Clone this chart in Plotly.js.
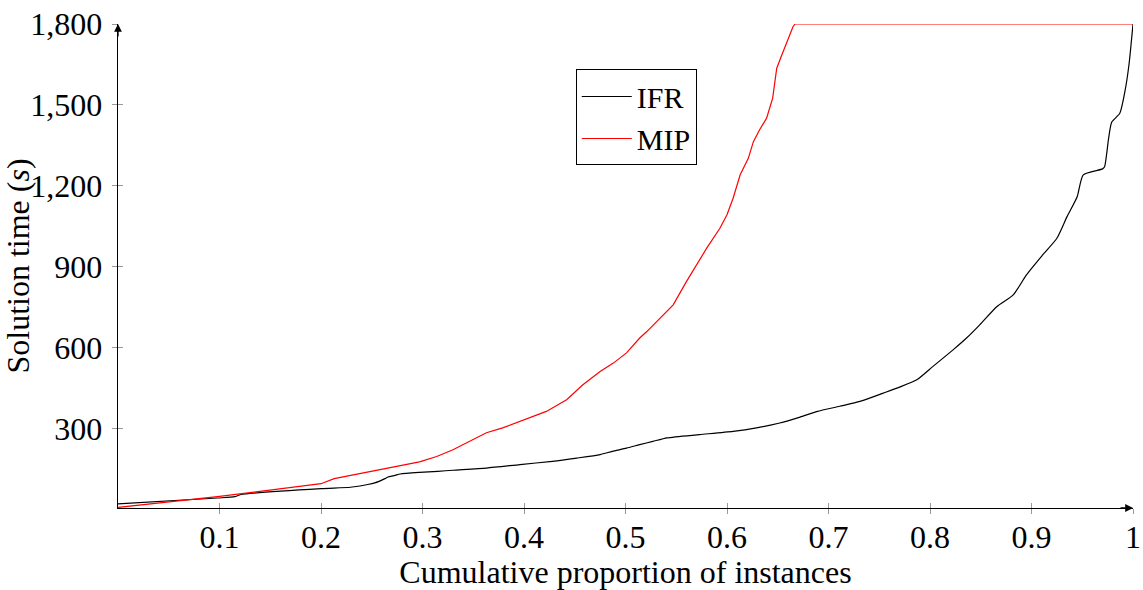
<!DOCTYPE html>
<html>
<head>
<meta charset="utf-8">
<script src="https://cdn.plot.ly/plotly-3.0.1.min.js"></script>
<style>html,body{margin:0;padding:0;background:#fff}</style>
</head>
<body>
<div id="chart" style="width:1143px;height:590px"></div>
<script>
// Cumulative solution-time profiles of the two approaches
const ifrX = [0, 0.098, 0.115, 0.121, 0.200, 0.229, 0.246, 0.253, 0.263, 0.266, 0.273, 0.278, 0.297, 0.315, 0.330, 0.363, 0.396, 0.428, 0.452, 0.475, 0.487, 0.501, 0.514, 0.527, 0.541, 0.573, 0.606, 0.629, 0.652, 0.672, 0.689, 0.711, 0.731, 0.754, 0.770, 0.787, 0.803, 0.823, 0.836, 0.849, 0.866, 0.882, 0.895, 0.911, 0.925, 0.935, 0.945, 0.951, 0.970, 0.972, 0.976, 0.979, 0.987, 0.992, 0.996, 1.0];
const ifrY = [21, 43, 48, 56, 78, 83, 93, 99, 115, 121, 127, 132, 138, 142, 146, 154, 167, 179, 191, 204, 216, 228, 241, 253, 266, 278, 290, 303, 321, 343, 364, 383, 401, 432, 454, 481, 531, 593, 636, 685, 753, 796, 870, 944, 1006, 1086, 1160, 1241, 1263, 1271, 1377, 1436, 1469, 1549, 1648, 1800];

const mipX = [0, 0.098, 0.200, 0.213, 0.297, 0.314, 0.330, 0.346, 0.363, 0.379, 0.396, 0.422, 0.442, 0.458, 0.475, 0.488, 0.501, 0.514, 0.521, 0.534, 0.547, 0.560, 0.570, 0.580, 0.593, 0.600, 0.606, 0.609, 0.613, 0.621, 0.626, 0.632, 0.639, 0.645, 0.647, 0.649, 0.654, 0.659, 0.665, 0.667, 1.0];
const mipY = [8, 48, 96, 115, 177, 197, 222, 253, 285, 303, 327, 364, 407, 463, 512, 543, 581, 636, 660, 710, 759, 845, 907, 969, 1043, 1093, 1154, 1191, 1241, 1302, 1364, 1407, 1451, 1525, 1586, 1636, 1685, 1734, 1790, 1800, 1800];

const xTickVals = [0.1, 0.2, 0.3, 0.4, 0.5, 0.6, 0.7, 0.8, 0.9, 1];
const xTickText = ['0.1', '0.2', '0.3', '0.4', '0.5', '0.6', '0.7', '0.8', '0.9', '1'];
const yTickVals = [300, 600, 900, 1200, 1500, 1800];
const yTickText = ['300', '600', '900', '1,200', '1,500', '1,800'];

const serif = 'Liberation Serif, Times New Roman, serif';
const xRange = [0, 1];
const yRange = [6, 1800];

const traces = [
  {x: ifrX, y: ifrY, name: 'IFR', mode: 'lines', type: 'scatter',
   line: {color: '#000000', width: 1.2, shape: 'spline', smoothing: 0.6}},
  {x: mipX, y: mipY, name: 'MIP', mode: 'lines', type: 'scatter',
   line: {color: '#ff0000', width: 1.2}},
  // empty trace that registers the companion tick axes
  {x: [], y: [], xaxis: 'x2', yaxis: 'y2', type: 'scatter', mode: 'lines',
   showlegend: false, hoverinfo: 'skip'}
];

const tickStyle = {ticklen: 5, tickwidth: 1, tickcolor: '#999999'};

const layout = {
  width: 1143, height: 590,
  margin: {l: 118, r: 10, t: 24, b: 82},
  paper_bgcolor: '#ffffff', plot_bgcolor: '#ffffff',
  font: {family: serif, size: 32, color: '#000000'},
  showlegend: true,
  legend: {x: 0.451, y: 0.906, xanchor: 'left', yanchor: 'top',
           bordercolor: '#000000', borderwidth: 1, bgcolor: '#ffffff',
           font: {family: serif, size: 30}, tracegroupgap: 0, itemwidth: 50},
  xaxis: Object.assign({range: xRange, tickmode: 'array', tickvals: xTickVals, ticktext: xTickText,
          ticks: 'inside', showline: true, linecolor: '#000000', linewidth: 1.3,
          showgrid: false, zeroline: false, fixedrange: true,
          title: {text: 'Cumulative proportion of instances', font: {family: serif, size: 32}, standoff: 6}}, tickStyle),
  yaxis: Object.assign({range: yRange, tickmode: 'array', tickvals: yTickVals, ticktext: yTickText,
          ticks: 'outside', ticklabelstandoff: 3, showline: true, linecolor: '#000000', linewidth: 1.3,
          showgrid: false, zeroline: false, fixedrange: true,
          title: {text: 'Solution time (<i>s</i>)', font: {family: serif, size: 32}, standoff: 0}}, tickStyle),
  // companion axes give the ticks their other half, so each tick crosses the axis line
  xaxis2: Object.assign({range: xRange, overlaying: 'x', anchor: 'y2', side: 'bottom', tickmode: 'array',
          tickvals: xTickVals, ticks: 'outside', showticklabels: false, showline: false,
          showgrid: false, zeroline: false, fixedrange: true}, tickStyle),
  yaxis2: Object.assign({range: yRange, overlaying: 'y', anchor: 'x2', side: 'left', tickmode: 'array',
          tickvals: yTickVals, ticks: 'inside', showticklabels: false, showline: false,
          showgrid: false, zeroline: false, fixedrange: true}, tickStyle),
  annotations: [
    // arrow tips at the far ends of both axes
    {x: 0, y: 1800, xref: 'x', yref: 'y', ax: 0, ay: 14, axref: 'pixel', ayref: 'pixel',
     text: '', showarrow: true, arrowhead: 2, arrowsize: 1.2, arrowwidth: 1.3, arrowcolor: '#000000'},
    {x: 1, y: 6, xref: 'x', yref: 'y', ax: -14, ay: 0, axref: 'pixel', ayref: 'pixel',
     text: '', showarrow: true, arrowhead: 2, arrowsize: 1.2, arrowwidth: 1.3, arrowcolor: '#000000'}
  ]
};

Plotly.newPlot('chart', traces, layout, {displayModeBar: false, staticPlot: true});
</script>
</body>
</html>
